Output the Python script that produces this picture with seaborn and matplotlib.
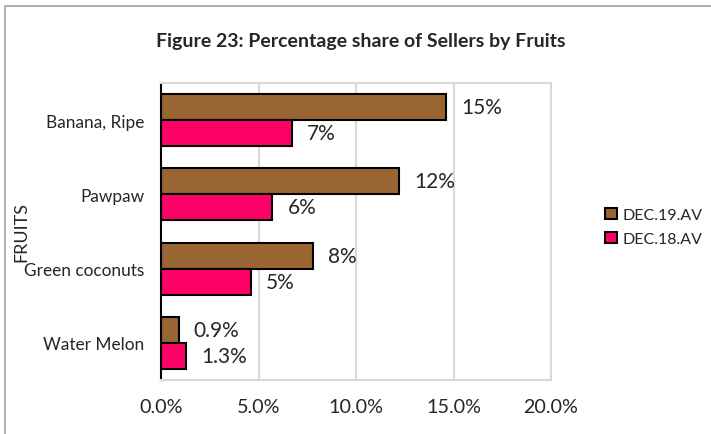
import numpy as np
import pandas as pd
import seaborn as sns
import matplotlib.pyplot as plt
from matplotlib.lines import Line2D

# data
fruits = ["Banana, Ripe", "Pawpaw", "Green coconuts", "Water Melon"]
dec19 = [14.6, 12.2, 7.8, 0.9]
dec18 = [6.7, 5.7, 4.6, 1.3]
dec19_labels = ["15%", "12%", "8%", "0.9%"]
dec18_labels = ["7%", "6%", "5%", "1.3%"]
series = ["DEC.19.AV", "DEC.18.AV"]
colors = ["#996633", "#FF0066"]

df = pd.DataFrame({
    "Fruit": fruits * 2,
    "Share": dec19 + dec18,
    "Series": [series[0]] * 4 + [series[1]] * 4,
})

sns.set_style("white")
plt.rcParams["font.family"] = ["Lato", "DejaVu Sans"]

fig = plt.figure(figsize=(7.11, 4.35), dpi=100)
ax = fig.add_axes([161 / 711, 54 / 435, 390 / 711, 297 / 435])

sns.barplot(data=df, y="Fruit", x="Share", hue="Series", order=fruits,
            hue_order=series, palette=colors, orient="h", width=0.7,
            saturation=1, edgecolor="black", linewidth=1.5, ax=ax)

for cont, labs in zip(ax.containers, [dec19_labels, dec18_labels]):
    ax.bar_label(cont, labels=labs, padding=11, fontsize=15)

ax.set_xlim(0, 20)
ax.set_xticks([0, 5, 10, 15, 20])
ax.set_xticklabels(["0.0%", "5.0%", "10.0%", "15.0%", "20.0%"], fontsize=14.2)
ax.tick_params(axis="x", length=0, pad=13)
ax.tick_params(axis="y", length=0, pad=12, labelsize=12.4)
ax.grid(axis="x", color="#D9D9D9", lw=1.5)
ax.set_axisbelow(True)
for s in ["top", "right", "bottom"]:
    ax.spines[s].set_color("#D9D9D9")
    ax.spines[s].set_linewidth(1.5)
ax.spines["left"].set_color("black")
ax.spines["left"].set_linewidth(1.5)
ax.set_xlabel("")
ax.set_ylabel("FRUITS", fontsize=13)
ax.yaxis.set_label_coords(-0.338, 0.5)

leg = ax.legend(loc="center left", bbox_to_anchor=(591 / 711, 1 - 228 / 435),
                bbox_transform=fig.transFigure, frameon=False, fontsize=11.5,
                handlelength=0.7, handleheight=0.7, handletextpad=0.4,
                labelspacing=0.6)

fig.text(361 / 711, 1 - 41 / 435, "Figure 23: Percentage share of Sellers by Fruits",
         ha="center", va="center", fontsize=14, fontweight="bold")

# chart-area border (top and left visible)
fig.add_artist(Line2D([5 / 711, 1], [1 - 7 / 435] * 2, color="#B0B0B0", lw=1.5,
                      transform=fig.transFigure))
fig.add_artist(Line2D([5 / 711] * 2, [0, 1 - 7 / 435], color="#B0B0B0", lw=1.5,
                      transform=fig.transFigure))

fig.savefig("out.png", dpi=100)
